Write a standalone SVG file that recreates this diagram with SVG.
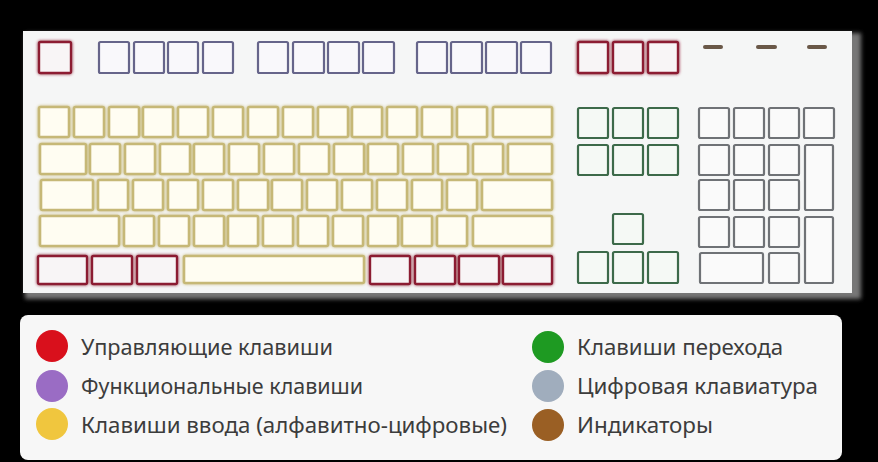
<svg xmlns="http://www.w3.org/2000/svg" width="878" height="462" viewBox="0 0 878 462">
<defs>
<filter id="glow" x="-20%" y="-20%" width="140%" height="140%">
<feGaussianBlur in="SourceGraphic" stdDeviation="1.6" result="b"/>
<feMerge><feMergeNode in="b"/><feMergeNode in="SourceGraphic"/></feMerge>
</filter>
<filter id="soft" x="-5%" y="-5%" width="110%" height="110%"><feGaussianBlur stdDeviation="2"/></filter>
<style>
.red rect{fill:#f8f5f6;stroke:#8c1a30}
.fn rect{fill:#f9f8fb;stroke:#66658a}
.al rect{fill:#fffdf2;stroke:#c6b877}
.nav rect{fill:#f5f9f5;stroke:#3d6a4a}
.num rect{fill:#fafafa;stroke:#6f7276}
.ind rect{fill:#6a5848}
.lt{font-family:"Noto Sans","Open Sans",sans-serif;font-size:21.5px;fill:#3c3c3c}
</style>
</defs>
<rect width="878" height="462" fill="#000"/>
<g id="keyboard">
<rect x="25" y="33" width="836" height="266" fill="#777" filter="url(#soft)"/>
<rect x="23" y="31" width="829" height="262" fill="#f5f6f6"/>
</g>
<g id="control-keys" class="red" filter="url(#glow)" stroke-width="2.4">
<rect x="39" y="42" width="32" height="31" rx="1.5"/>
<rect x="578" y="42" width="30" height="31" rx="1.5"/>
<rect x="613" y="42" width="30" height="31" rx="1.5"/>
<rect x="648" y="42" width="30" height="31" rx="1.5"/>
<rect x="38" y="256" width="49" height="28" rx="1.5"/>
<rect x="92" y="256" width="40" height="28" rx="1.5"/>
<rect x="137" y="256" width="40" height="28" rx="1.5"/>
<rect x="370" y="256" width="40" height="28" rx="1.5"/>
<rect x="415" y="256" width="40" height="28" rx="1.5"/>
<rect x="459" y="256" width="40" height="28" rx="1.5"/>
<rect x="503" y="256" width="49" height="28" rx="1.5"/>
</g>
<g id="function-keys" class="fn" stroke-width="2.2">
<rect x="99" y="42" width="30" height="31" rx="1.5"/>
<rect x="134" y="42" width="30" height="31" rx="1.5"/>
<rect x="168" y="42" width="30" height="31" rx="1.5"/>
<rect x="203" y="42" width="30" height="31" rx="1.5"/>
<rect x="258" y="42" width="30" height="31" rx="1.5"/>
<rect x="293" y="42" width="31" height="31" rx="1.5"/>
<rect x="328" y="42" width="31" height="31" rx="1.5"/>
<rect x="363" y="42" width="31" height="31" rx="1.5"/>
<rect x="417" y="42" width="30" height="31" rx="1.5"/>
<rect x="451" y="42" width="31" height="31" rx="1.5"/>
<rect x="486" y="42" width="31" height="31" rx="1.5"/>
<rect x="521" y="42" width="30" height="31" rx="1.5"/>
</g>
<g id="indicators" class="ind">
<rect x="703" y="45" width="20" height="4" rx="2"/>
<rect x="756" y="45" width="21" height="4" rx="2"/>
<rect x="807" y="45" width="20" height="4" rx="2"/>
</g>
<g id="alphanumeric-keys" class="al" filter="url(#glow)" stroke-width="2.6">
<rect x="39" y="107" width="30" height="30" rx="1.5"/>
<rect x="74" y="107" width="30" height="30" rx="1.5"/>
<rect x="109" y="107" width="30" height="30" rx="1.5"/>
<rect x="143" y="107" width="30" height="30" rx="1.5"/>
<rect x="178" y="107" width="30" height="30" rx="1.5"/>
<rect x="213" y="107" width="30" height="30" rx="1.5"/>
<rect x="248" y="107" width="30" height="30" rx="1.5"/>
<rect x="283" y="107" width="30" height="30" rx="1.5"/>
<rect x="318" y="107" width="30" height="30" rx="1.5"/>
<rect x="352" y="107" width="30" height="30" rx="1.5"/>
<rect x="387" y="107" width="30" height="30" rx="1.5"/>
<rect x="422" y="107" width="30" height="30" rx="1.5"/>
<rect x="457" y="107" width="30" height="30" rx="1.5"/>
<rect x="493" y="107" width="59" height="30" rx="1.5"/>
<rect x="40" y="144" width="46" height="30" rx="1.5"/>
<rect x="90" y="144" width="30" height="30" rx="1.5"/>
<rect x="125" y="144" width="30" height="30" rx="1.5"/>
<rect x="160" y="144" width="30" height="30" rx="1.5"/>
<rect x="194" y="144" width="30" height="30" rx="1.5"/>
<rect x="229" y="144" width="30" height="30" rx="1.5"/>
<rect x="264" y="144" width="30" height="30" rx="1.5"/>
<rect x="299" y="144" width="30" height="30" rx="1.5"/>
<rect x="334" y="144" width="30" height="30" rx="1.5"/>
<rect x="368" y="144" width="30" height="30" rx="1.5"/>
<rect x="403" y="144" width="30" height="30" rx="1.5"/>
<rect x="438" y="144" width="30" height="30" rx="1.5"/>
<rect x="473" y="144" width="30" height="30" rx="1.5"/>
<rect x="508" y="144" width="44" height="30" rx="1.5"/>
<rect x="41" y="180" width="52" height="30" rx="1.5"/>
<rect x="98" y="180" width="30" height="30" rx="1.5"/>
<rect x="133" y="180" width="30" height="30" rx="1.5"/>
<rect x="168" y="180" width="30" height="30" rx="1.5"/>
<rect x="203" y="180" width="30" height="30" rx="1.5"/>
<rect x="238" y="180" width="30" height="30" rx="1.5"/>
<rect x="272" y="180" width="30" height="30" rx="1.5"/>
<rect x="307" y="180" width="30" height="30" rx="1.5"/>
<rect x="342" y="180" width="30" height="30" rx="1.5"/>
<rect x="377" y="180" width="30" height="30" rx="1.5"/>
<rect x="412" y="180" width="30" height="30" rx="1.5"/>
<rect x="447" y="180" width="30" height="30" rx="1.5"/>
<rect x="482" y="180" width="70" height="30" rx="1.5"/>
<rect x="40" y="216" width="79" height="30" rx="1.5"/>
<rect x="124" y="216" width="30" height="30" rx="1.5"/>
<rect x="159" y="216" width="30" height="30" rx="1.5"/>
<rect x="194" y="216" width="30" height="30" rx="1.5"/>
<rect x="228" y="216" width="30" height="30" rx="1.5"/>
<rect x="263" y="216" width="30" height="30" rx="1.5"/>
<rect x="298" y="216" width="30" height="30" rx="1.5"/>
<rect x="333" y="216" width="30" height="30" rx="1.5"/>
<rect x="368" y="216" width="30" height="30" rx="1.5"/>
<rect x="402" y="216" width="30" height="30" rx="1.5"/>
<rect x="437" y="216" width="30" height="30" rx="1.5"/>
<rect x="473" y="216" width="79" height="30" rx="1.5"/>
<rect x="184" y="256" width="180" height="27" rx="1.5"/>
</g>
<g id="navigation-keys" class="nav" stroke-width="2.2">
<rect x="578" y="108" width="30" height="30" rx="1.5"/>
<rect x="613" y="108" width="30" height="30" rx="1.5"/>
<rect x="648" y="108" width="30" height="30" rx="1.5"/>
<rect x="578" y="145" width="30" height="30" rx="1.5"/>
<rect x="613" y="145" width="30" height="30" rx="1.5"/>
<rect x="648" y="145" width="30" height="30" rx="1.5"/>
<rect x="613" y="214" width="30" height="30" rx="1.5"/>
<rect x="578" y="252" width="30" height="31" rx="1.5"/>
<rect x="613" y="252" width="30" height="31" rx="1.5"/>
<rect x="648" y="252" width="30" height="31" rx="1.5"/>
</g>
<g id="numpad-keys" class="num" stroke-width="2.2">
<rect x="699" y="108" width="30" height="30" rx="1.5"/>
<rect x="734" y="108" width="30" height="30" rx="1.5"/>
<rect x="769" y="108" width="30" height="30" rx="1.5"/>
<rect x="804" y="108" width="30" height="30" rx="1.5"/>
<rect x="699" y="145" width="30" height="30" rx="1.5"/>
<rect x="734" y="145" width="30" height="30" rx="1.5"/>
<rect x="769" y="145" width="30" height="30" rx="1.5"/>
<rect x="805" y="145" width="28" height="65" rx="1.5"/>
<rect x="699" y="180" width="30" height="30" rx="1.5"/>
<rect x="734" y="180" width="30" height="30" rx="1.5"/>
<rect x="769" y="180" width="30" height="30" rx="1.5"/>
<rect x="699" y="217" width="30" height="30" rx="1.5"/>
<rect x="734" y="217" width="30" height="30" rx="1.5"/>
<rect x="769" y="217" width="30" height="30" rx="1.5"/>
<rect x="805" y="217" width="28" height="66" rx="1.5"/>
<rect x="700" y="253" width="63" height="30" rx="1.5"/>
<rect x="769" y="253" width="30" height="30" rx="1.5"/>
</g>
<g id="legend">
<rect x="20" y="315" width="822" height="145" rx="8" fill="#f7f7f7"/>
<circle cx="52" cy="346" r="16" fill="#d9101c"/>
<circle cx="52" cy="386" r="16" fill="#9a6cc4"/>
<circle cx="52" cy="424" r="16" fill="#f0c63e"/>
<circle cx="548" cy="347" r="16" fill="#1e9a22"/>
<circle cx="548" cy="386" r="16" fill="#a0adbd"/>
<circle cx="548" cy="425" r="16" fill="#9a5f24"/>
<text class="lt" x="81" y="355" textLength="252" lengthAdjust="spacingAndGlyphs">Управляющие клавиши</text>
<text class="lt" x="81" y="394" textLength="282" lengthAdjust="spacingAndGlyphs">Функциональные клавиши</text>
<text class="lt" x="81" y="433" textLength="426" lengthAdjust="spacingAndGlyphs">Клавиши ввода (алфавитно-цифровые)</text>
<text class="lt" x="577" y="355" textLength="206" lengthAdjust="spacingAndGlyphs">Клавиши перехода</text>
<text class="lt" x="577" y="394" textLength="241" lengthAdjust="spacingAndGlyphs">Цифровая клавиатура</text>
<text class="lt" x="577" y="433" textLength="136" lengthAdjust="spacingAndGlyphs">Индикаторы</text>
</g>
</svg>
